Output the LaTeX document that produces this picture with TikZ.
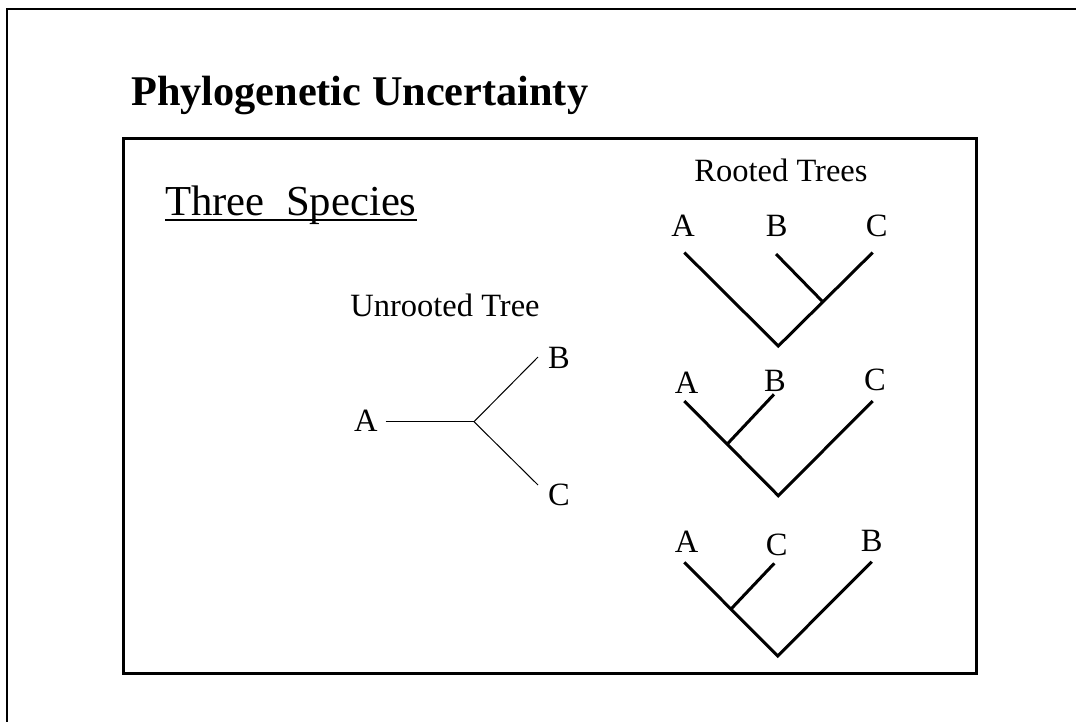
\documentclass[tikz,border=0pt]{standalone}
\usepackage{fontspec}
\setmainfont{Liberation Serif}
\usetikzlibrary{calc}
\tikzset{
  lbl/.style={inner sep=0pt, font=\fontsize{32.5}{38}\selectfont},
  heading/.style={inner sep=0pt, font=\fontsize{42.3}{48}\selectfont\bfseries},
  sub/.style={inner sep=0pt, font=\fontsize{42.7}{48}\selectfont},
  rooted/.style={line width=3pt, line cap=butt},
  unrooted/.style={line width=1pt},
  frame/.style={line width=2.2pt},
  innerframe/.style={line width=3pt}
}
\begin{document}
\begin{tikzpicture}[x=1pt,y=-1pt]
\useasboundingbox (0,0) rectangle (1076,721);
\fill[white] (0,0) rectangle (1076,721);
\begin{scope}
\clip (0,0) rectangle (1076,721);
\draw[frame] (7,740) -- (7,9) -- (1100,9);
\end{scope}
\draw[innerframe] (123,138) rectangle (976,673);

% title
\node[heading, anchor=base west] (title) at (131,105) {Phylogenetic Uncertainty};
\node[sub, anchor=base west] (three) at (165,215) {Three\ \ Species};
\draw[line width=2.2pt] ($(three.base west)+(0,5)$) -- ($(three.base east)+(0,5)$);

% unrooted tree
\node[lbl, anchor=base] (ut) at (445,316.7) {Unrooted Tree};
\node[lbl, anchor=base west] (ua) at (354,431.7) {A};
\node[lbl, anchor=base west] (ub) at (548,368) {B};
\node[lbl, anchor=base west] (uc) at (548,505) {C};
\coordinate (uA) at (385.7,421.7);
\coordinate (uX) at (474,421.7);
\coordinate (uB) at (538,357);
\coordinate (uC) at (538,485);
\draw[unrooted] (uA) -- (uX);
\draw[unrooted] (uX) -- (uB);
\draw[unrooted] (uX) -- (uC);

% rooted trees
\node[lbl, anchor=base] (rt) at (781,181.7) {Rooted Trees};

% tree 1: A,(B,C)
\node[lbl, anchor=base] (a1) at (683,236.7) {A};
\node[lbl, anchor=base] (b1) at (776.7,236.7) {B};
\node[lbl, anchor=base] (c1) at (876.7,236.7) {C};
\coordinate (t1A) at (684.3,252.5);
\coordinate (t1B) at (776,254);
\coordinate (t1C) at (872.7,252.5);
\coordinate (t1R) at (778.3,346);
\coordinate (t1J) at (822.7,301.7);
\draw[rooted] (t1A) -- (t1R) -- (t1C);
\draw[rooted] (t1B) -- (t1J);

% tree 2: (A,B),C
\node[lbl, anchor=base] (a2) at (686.7,393.3) {A};
\node[lbl, anchor=base] (b2) at (775,391.7) {B};
\node[lbl, anchor=base] (c2) at (875,390.7) {C};
\coordinate (t2A) at (684.3,401);
\coordinate (t2B) at (774,394.3);
\coordinate (t2C) at (872.7,401);
\coordinate (t2R) at (778.3,495.7);
\coordinate (t2J) at (727.3,444);
\draw[rooted] (t2A) -- (t2R) -- (t2C);
\draw[rooted] (t2B) -- (t2J);

% tree 3: (A,C),B
\node[lbl, anchor=base] (a3) at (686.7,552.7) {A};
\node[lbl, anchor=base] (c3) at (776.7,555) {C};
\node[lbl, anchor=base] (b3) at (871.7,551.7) {B};
\coordinate (t3A) at (684.3,562.3);
\coordinate (t3C) at (774.3,563.3);
\coordinate (t3B) at (871.7,561.7);
\coordinate (t3R) at (777.7,656);
\coordinate (t3J) at (731.7,608.3);
\draw[rooted] (t3A) -- (t3R) -- (t3B);
\draw[rooted] (t3C) -- (t3J);
\end{tikzpicture}
\end{document}
